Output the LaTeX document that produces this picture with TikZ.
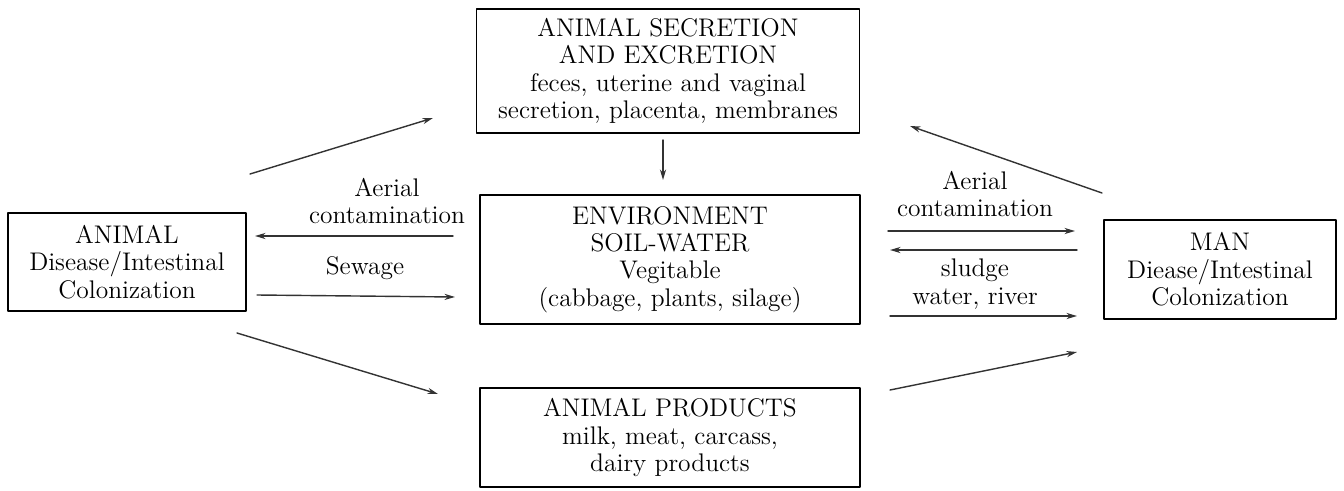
\documentclass[tikz,border=0pt]{standalone}
\usetikzlibrary{arrows.meta}
\begin{document}
\begin{tikzpicture}[x=0.02cm,y=-0.02cm,line join=round,line cap=round,>={Stealth[length=6pt,width=3.5pt]},
	font=\fontsize{14.5}{15.6}\selectfont,
	box/.style={draw,line width=0.8pt,align=center,inner sep=0pt},
	lbl/.style={align=center,inner sep=0pt},
	flow/.style={->,line width=0.8pt,black!80}]
	\useasboundingbox (0,0) rectangle (1344,490);
	% boxes
	\node[box,minimum width=7.66cm,minimum height=2.48cm] (sec) at (668,71) {ANIMAL SECRETION\\AND EXCRETION\\feces, uterine and vaginal\\secretion, placenta, membranes};
	\node[box,minimum width=7.6cm,minimum height=2.58cm] (env) at (670,259.5) {ENVIRONMENT\\SOIL-WATER\\Vegitable\\(cabbage, plants, silage)};
	\node[box,minimum width=7.6cm,minimum height=1.98cm] (prod) at (670,437.5) {ANIMAL PRODUCTS\\milk, meat, carcass,\\dairy products};
	\node[box,minimum width=4.76cm,minimum height=1.96cm] (anml) at (127,262) {ANIMAL\\Disease/Intestinal\\Colonization};
	\node[box,minimum width=4.64cm,minimum height=1.98cm] (man) at (1220,269.5) {MAN\\Diease/Intestinal\\Colonization};
	% labels
	\node[lbl] (lair) at (387,201) {Aerial\\contamination};
	\node[lbl] (lsew) at (365,268) {Sewage};
	\node[lbl] (rair) at (975,194) {Aerial\\contamination};
	\node[lbl] (rsl) at (975,284) {sludge\\water, river};
	% arrow ends
	\path
	(250,174) coordinate (A1) (433,118) coordinate (S1)
	(453,236) coordinate (E1) (255,236) coordinate (A2)
	(257,295) coordinate (A3) (455,297) coordinate (E2)
	(237,333) coordinate (A4) (438,394) coordinate (P1)
	(663,140) coordinate (S2) (663,180) coordinate (E3)
	(888,231) coordinate (E4) (1075,231) coordinate (M1)
	(1077,250) coordinate (M2) (890,250) coordinate (E5)
	(890,316) coordinate (E6) (1077,316) coordinate (M3)
	(890,390) coordinate (P2) (1077,352) coordinate (M4)
	(1102,193) coordinate (M5) (910,126) coordinate (S3);
	\foreach \x/\y in {A1/S1,E1/A2,A3/E2,A4/P1,S2/E3,E4/M1,M2/E5,E6/M3,P2/M4,M5/S3}
	\draw[flow] (\x)--(\y);
\end{tikzpicture}
\end{document}
